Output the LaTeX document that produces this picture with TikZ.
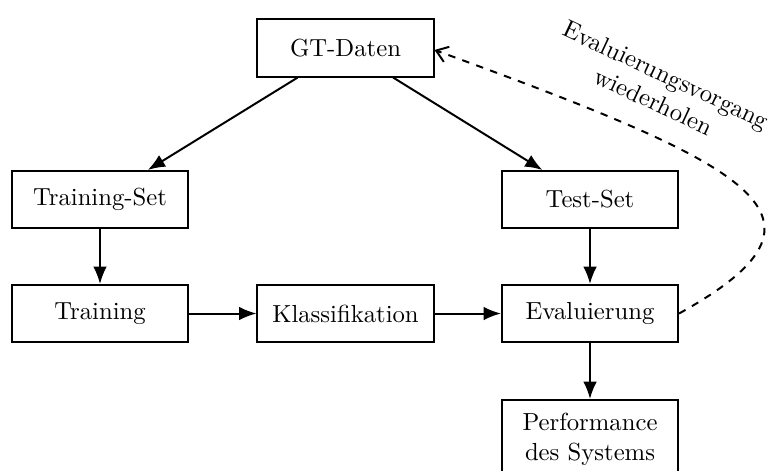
\documentclass[tikz,border=0pt]{standalone}
\usetikzlibrary{arrows.meta}
\begin{document}
\begin{tikzpicture}[x=0.405pt, y=-0.405pt,
  box/.style={draw, thick, minimum width=71.3pt, minimum height=23.1pt,
              align=center, inner sep=3pt},
  flow/.style={thick, -{Latex[length=7pt,width=5.5pt]}},
  back/.style={thick, dashed, -{Straight Barb[length=4.5pt,width=6.5pt]}}]
  \useasboundingbox (0,0) rectangle (773,470);

  % process boxes
  \node[box] (gt)   at (345.5,48)  {GT-Daten};
  \node[box] (trs)  at (100,199.5) {Training-Set};
  \node[box] (tes)  at (590,199.5) {Test-Set};
  \node[box] (tr)   at (100,313.5) {Training};
  \node[box] (kl)   at (345.5,313.5) {Klassifikation};
  \node[box] (ev)   at (590,313.5) {Evaluierung};
  \node[box, inner ysep=5.5pt, anchor=north] (perf) at (590,399) {Performance\\des Systems};

  % main flow
  \draw[flow] (gt) -- (trs);
  \draw[flow] (gt) -- (tes);
  \draw[flow] (trs) -- (tr);
  \draw[flow] (tes) -- (ev);
  \draw[flow] (tr) -- (kl);
  \draw[flow] (kl) -- (ev);
  \draw[flow] (ev) -- (perf);

  % feedback loop
  \draw[back] (ev.east) .. controls +(-29:200) and +(20:340) .. ([yshift=-0.8pt]gt.east);
  \node[rotate=-25, align=center] (lbl) at (660,88) {Evaluierungsvorgang\\wiederholen};
\end{tikzpicture}
\end{document}
